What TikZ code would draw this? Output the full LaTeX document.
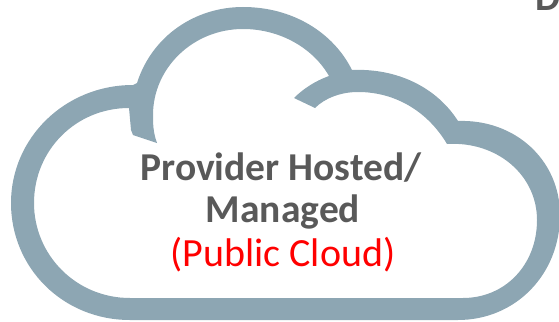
\documentclass[tikz,border=0pt]{standalone}
\usepackage{fontspec}
\setmainfont{Carlito}
\definecolor{cloudc}{HTML}{8DA6B3}
\definecolor{txtg}{HTML}{595959}
\definecolor{pubred}{HTML}{FF0000}
\tikzset{
  lab/.style={anchor=base,inner sep=0pt,outer sep=0pt},
  boldlab/.style={lab,text=txtg,font=\fontsize{39.5}{39.5}\selectfont\bfseries},
  redlab/.style={lab,text=pubred,font=\fontsize{40}{40}\selectfont}
}
\begin{document}
\begin{tikzpicture}[x=1pt,y=-1pt]
\useasboundingbox (0,0) rectangle (559,321);
\begin{scope}
\clip (0,0) rectangle (559,321);
\fill[cloudc,even odd rule]
  (130,320) .. controls (63,320) and (11,268) .. (11,203)
  .. controls (11,138) and (65,85) .. (133,85)
  -- (137,83)
  .. controls (152,36) and (195,7) .. (243,7)
  .. controls (292,7) and (333,32) .. (352,70)
  .. controls (398,68) and (437,88) .. (458,121)
  .. controls (515,119) and (560,160) .. (560,215)
  .. controls (560,275) and (515,320) .. (458,320)
  -- cycle
  (130,298) .. controls (76,298) and (34,255) .. (34,203)
  .. controls (34,150) and (76,108) .. (129,108)
  -- (131,130) -- (133,135) -- (157,143)
  .. controls (153,132) and (153,123) .. (153,115)
  .. controls (153,68) and (193,29) .. (243,29)
  .. controls (280,29) and (313,48) .. (329,76)
  .. controls (315,81) and (303,89) .. (294,98)
  -- (315,108)
  .. controls (325,98) and (341,92) .. (358,92)
  .. controls (396,92) and (428,112) .. (447,144)
  .. controls (497,141) and (537,175) .. (537,220)
  .. controls (537,265) and (505,298) .. (463,298)
  -- cycle;
\node[boldlab] (d) at (548,11) {D};
\end{scope}
\node[boldlab] (l1) at (281,180) {Provider Hosted/};
\node[boldlab] (l2) at (283,222) {Managed};
\node[redlab] (l3) at (283,266) {(Public Cloud)};
\end{tikzpicture}
\end{document}
